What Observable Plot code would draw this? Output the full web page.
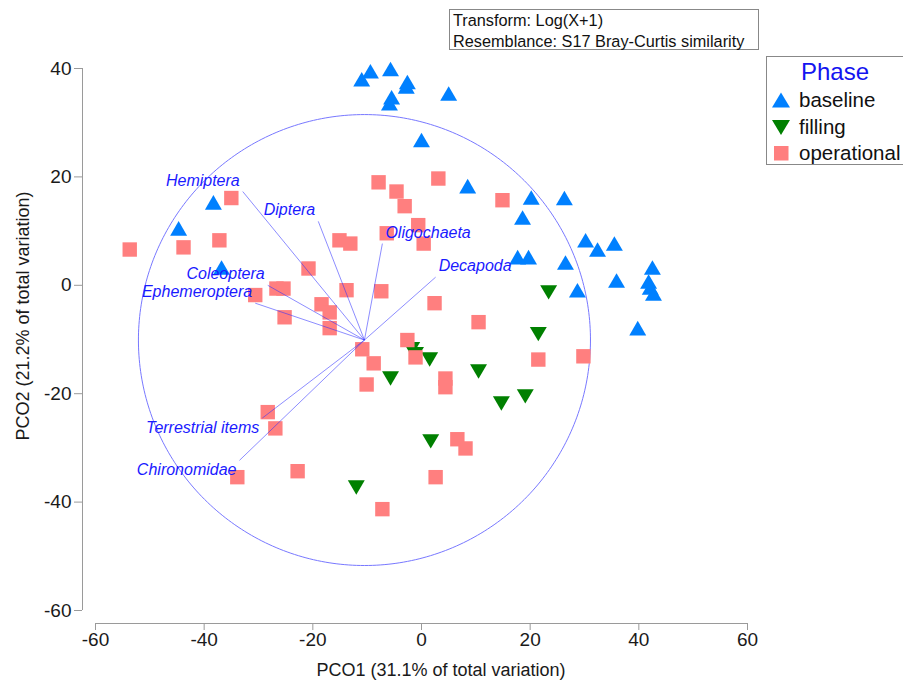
<!DOCTYPE html>
<html>
<head>
<meta charset="utf-8">
<script src="https://cdn.jsdelivr.net/npm/d3@7"></script>
<script src="https://cdn.jsdelivr.net/npm/@observablehq/plot@0.6"></script>
<style>
  html, body { margin: 0; padding: 0; background: #fff; }
  #wrap { position: relative; width: 903px; height: 686px; overflow: hidden; font-family: "Liberation Sans", Arial, sans-serif; }
  #note { position: absolute; left: 449px; top: 9px; width: 310px; height: 41px; border: 1px solid #888; background: #fff;
          font-size: 16.3px; line-height: 20.5px; color: #111; box-sizing: border-box; padding: 0 0 0 3px; }
  #legend { position: absolute; left: 766px; top: 56px; width: 140px; height: 109px; border: 1px solid #888; background: #fff; box-sizing: border-box; }
  #legend .title { position: absolute; left: 0; width: 136px; top: 1px; text-align: center; font-size: 24px; color: #1414f0; }
  #legend .item { position: absolute; left: 4px; height: 24px; font-size: 20.5px; line-height: 24px; color: #111; white-space: nowrap; }
  #legend .item svg { position: absolute; left: 0; top: 3px; }
  #legend .item span { position: absolute; left: 28px; top: 0; }
  #ylabel { position: absolute; left: 23px; top: 316px; transform: translate(-50%, -50%) rotate(-90deg);
            font-size: 18px; color: #1a1a1a; white-space: nowrap; }
</style>
</head>
<body>
<div id="wrap"></div>
<script>
// ---- data ----
const xTicks = [-60, -40, -20, 0, 20, 40, 60];
const yTicks = [-60, -40, -20, 0, 20, 40];
const xLabel = "PCO1 (31.1% of total variation)";
const yLabel = "PCO2 (21.2% of total variation)";
const phases = ["baseline", "filling", "operational"];
const phaseColors = ["#0080ff", "#008000", "#ff7f7f"];

const baselineX = [-11.0, -9.4, -5.7, -2.6, -2.8, -5.5, -5.9, 5.0, 0.0, 8.5, 20.2, 26.3, 18.6, 17.7, 19.7, 26.5, 30.2, 32.4, 35.5, 35.9, 28.7, 42.5, 41.8, 42.1, 42.7, 39.8, -38.3, -44.7, -36.8];
const baselineY = [38.0, 39.5, 39.9, 37.5, 36.7, 34.7, 33.6, 35.4, 26.8, 18.3, 16.2, 16.1, 12.5, 5.2, 5.2, 4.2, 8.3, 6.6, 7.7, 0.9, -0.9, 3.3, 0.7, -0.4, -1.5, -7.9, 15.3, 10.5, 3.3];

const fillingX = [23.4, 21.5, -1.8, -1.1, 1.5, -5.7, 10.5, 14.7, 19.1, 1.7, -12.0];
const fillingY = [-1.3, -9.0, -11.8, -12.7, -13.7, -17.2, -15.9, -21.8, -20.5, -28.8, -37.3];

const operationalX = [-53.7, -43.8, -37.2, -35.0, -7.9, -4.6, -3.1, 3.1, 14.9, -0.6, 0.4, -6.4, -15.1, -13.1, -20.8, -13.8, -7.4, -26.7, -25.4, -30.6, -25.2, -18.4, -16.9, -16.9, 2.4, 10.5, -2.6, -1.1, -10.9, -8.8, -10.1, 4.4, 4.4, 21.5, 29.8, -28.3, -26.9, -33.9, -22.8, 2.6, -7.2, 6.6, 8.1];
const operationalY = [6.6, 7.0, 8.3, 16.1, 19.0, 17.3, 14.6, 19.7, 15.7, 11.1, 7.7, 9.6, 8.3, 7.7, 3.1, -0.9, -1.1, -0.6, -0.6, -1.8, -5.9, -3.5, -5.0, -7.9, -3.3, -6.8, -10.1, -13.3, -11.8, -14.4, -18.3, -17.2, -18.8, -13.7, -13.1, -23.4, -26.4, -35.4, -34.3, -35.4, -41.3, -28.4, -30.1];

const vectorNames = ["Hemiptera", "Diptera", "Oligochaeta", "Decapoda", "Coleoptera", "Ephemeroptera", "Terrestrial items", "Chironomidae"];
const vectorX = [-32.9, -19.0, -7.2, 2.6, -28.3, -30.6, -29.3, -33.5];
const vectorY = [17.3, 11.8, 7.7, 1.5, 0.0, -3.3, -24.5, -32.3];
const circleCenterX = -10.5;
const circleCenterY = -10.1;
const circleRadius = 41.6;

const noteLines = ["Transform: Log(X+1)", "Resemblance: S17 Bray-Curtis similarity"];

// ---- build tables ----
const series = [[baselineX, baselineY], [fillingX, fillingY], [operationalX, operationalY]];
const points = phases.flatMap((p, k) => series[k][0].map((x, i) => ({phase: p, x, y: series[k][1][i]})));
const vectors = vectorNames.map((name, i) => ({name, x: vectorX[i], y: vectorY[i], x0: circleCenterX, y0: circleCenterY}));
const circle = d3.range(0, 361, 1).map(a => ({
  x: circleCenterX + circleRadius * Math.cos(a * Math.PI / 180),
  y: circleCenterY + circleRadius * Math.sin(a * Math.PI / 180)
}));

// custom symbols (centered on bounding box)
const triUp = {draw(ctx, size) { const a = Math.sqrt(size / Math.PI); const hw = 1.06 * a, hh = 0.91 * a;
  ctx.moveTo(0, -hh); ctx.lineTo(hw, hh); ctx.lineTo(-hw, hh); ctx.closePath(); }};
const triDown = {draw(ctx, size) { const a = Math.sqrt(size / Math.PI); const hw = 1.06 * a, hh = 0.9 * a;
  ctx.moveTo(0, hh); ctx.lineTo(hw, -hh); ctx.lineTo(-hw, -hh); ctx.closePath(); }};
const square = {draw(ctx, size) { const a = Math.sqrt(size / Math.PI); const h = 0.9 * a;
  ctx.rect(-h, -h, 2 * h, 2 * h); }};
const phaseSymbols = [triUp, triDown, square];

const vecColor = "#1a1aff";
const axisGray = "#9a9a9a";

const chart = Plot.plot({
  width: 903,
  height: 686,
  marginLeft: 82,
  marginRight: 156,
  marginTop: 68,
  marginBottom: 63,
  style: {fontFamily: "'Liberation Sans', Arial, sans-serif", color: "#1a1a1a", background: "transparent"},
  x: {domain: [-60, 60], range: [95, 747]},
  y: {domain: [-60, 40], range: [610, 68]},
  marks: [
    // axes
    Plot.ruleX([-60], {y1: -60, y2: 40, dx: -13, stroke: axisGray}),
    Plot.ruleY([-60], {x1: -60, x2: 60, dy: 13, stroke: axisGray}),
    Plot.axisY({ticks: yTicks, tickFormat: d => String(d), tickSize: 8, tickPadding: 3, fontSize: 19, stroke: axisGray, fill: "#1a1a1a", label: null}),
    Plot.axisX({ticks: xTicks, tickFormat: d => String(d), tickSize: 7, tickPadding: 2, fontSize: 19, stroke: axisGray, fill: "#1a1a1a", label: null}),
    Plot.text([xLabel], {text: d => d, frameAnchor: "bottom", dx: 26, dy: 47, fontSize: 18, lineAnchor: "middle", fill: "#1a1a1a"}),
    // correlation circle
    Plot.line(circle, {x: "x", y: "y", stroke: "#7878ff", strokeWidth: 1}),
    // points
    ...phases.map((p, k) => Plot.dot(points.filter(d => d.phase === p), {x: "x", y: "y", r: 8, symbol: phaseSymbols[k], fill: phaseColors[k], stroke: "none"})),
    // vectors
    Plot.link(vectors, {x1: "x0", y1: "y0", x2: "x", y2: "y", stroke: "#3030ff", strokeOpacity: 0.55, strokeWidth: 1}),
    Plot.text(vectors.filter(d => d.x > d.x0), {x: "x", y: "y", text: "name", textAnchor: "start", dx: 3, dy: -11, fontSize: 16, fontStyle: "italic", fill: vecColor}),
    Plot.text(vectors.filter(d => d.x <= d.x0 && d.y > d.y0), {x: "x", y: "y", text: "name", textAnchor: "end", dx: -3, dy: -11, fontSize: 16, fontStyle: "italic", fill: vecColor}),
    Plot.text(vectors.filter(d => d.x <= d.x0 && d.y <= d.y0), {x: "x", y: "y", text: "name", textAnchor: "end", dx: -3, dy: 10, fontSize: 16, fontStyle: "italic", fill: vecColor})
  ]
});

const wrap = document.getElementById("wrap");
wrap.appendChild(chart);

// y axis title
const yl = document.createElement("div");
yl.id = "ylabel";
yl.textContent = yLabel;
wrap.appendChild(yl);

// note box
const note = document.createElement("div");
note.id = "note";
note.innerHTML = noteLines.map(t => `<div>${t}</div>`).join("");
wrap.appendChild(note);

// legend
const legend = document.createElement("div");
legend.id = "legend";
const icon = k => {
  const c = phaseColors[k];
  if (k === 0) return `<svg width="20" height="18"><polygon points="10,1.5 19,16.5 1,16.5" fill="${c}"/></svg>`;
  if (k === 1) return `<svg width="20" height="18"><polygon points="10,17 19,2 1,2" fill="${c}"/></svg>`;
  return `<svg width="20" height="18"><rect x="3" y="2" width="14.5" height="14.5" fill="${c}"/></svg>`;
};
legend.innerHTML = `<div class="title">Phase</div>` +
  phases.map((p, k) => `<div class="item" style="top:${31 + k * 26.5}px">${icon(k)}<span>${p}</span></div>`).join("");
wrap.appendChild(legend);
</script>
</body>
</html>
